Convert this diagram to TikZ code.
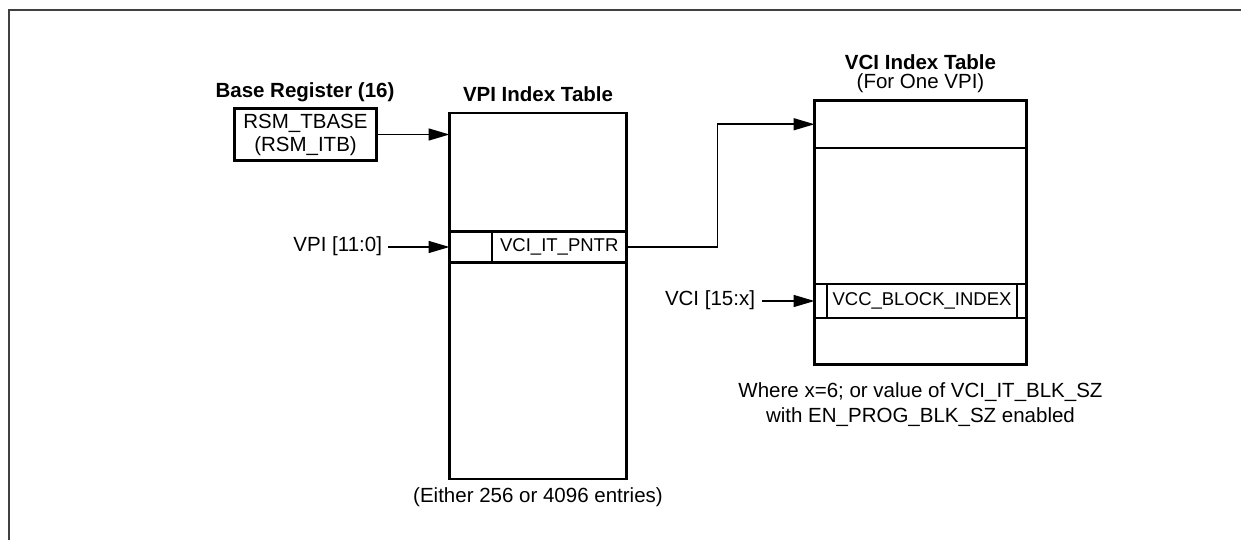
\documentclass[tikz,border=0pt]{standalone}
\usepackage{fontspec}
\setmainfont{Liberation Sans}
\usetikzlibrary{arrows.meta}
\begin{document}
\begin{tikzpicture}[x=1pt,y=-1pt,
  every node/.style={inner sep=0pt, outer sep=0pt},
  thick box/.style={draw, line width=2.7pt, rectangle, inner sep=0pt},
  lbl/.style={font=\fontsize{20.5}{25}\selectfont},
  cell/.style={font=\fontsize{18.5}{22}\selectfont},
  ttl/.style={font=\fontsize{20.5}{25}\selectfont\bfseries},
  conn/.style={line width=1.5pt, -{Triangle[length=21pt,width=12pt]}},
  wire/.style={line width=1.5pt},
  frame/.style={line width=2pt, draw=black!75}]
\useasboundingbox (0,0) rectangle (1241,540);
\draw[frame] (8.5,540) -- (8.5,10.5) -- (1241,10.5);

% Base register
\node[ttl] (brt) at (305,92) {Base Register (16)};
\node[thick box, minimum width=142pt, minimum height=52pt, align=center, lbl] (rsm) at (305.5,134.5)
  {RSM\_TBASE\\[-2pt](RSM\_ITB)};

% VPI table
\node[ttl] (vpit) at (538,94) {VPI Index Table};
\node[thick box, minimum width=177pt, minimum height=366pt] (vpi) at (538,296) {};
\node[thick box, minimum width=177pt, minimum height=31pt] (vpirow) at (538,247) {};
\node[thick box, minimum width=134.5pt, minimum height=31pt, cell] (pntr) at (559.25,247) {VCI\_IT\_PNTR};
\node[lbl] (vpicap) at (538,497) {(Either 256 or 4096 entries)};

\node[lbl, anchor=east] (vpilbl) at (382,246) {VPI [11:0]};
\draw[conn] ([xshift=6pt]vpilbl.east |- vpirow.west) -- (vpirow.west);
\draw[conn] (rsm.east) -- (rsm.east -| vpi.west);

% VCI table
\node[ttl] (vcit) at (920.5,62) {VCI Index Table};
\node[lbl] (vcis) at (920.5,83) {(For One VPI)};
\node[thick box, minimum width=212pt, minimum height=264pt] (vci) at (920.5,232.5) {};
\node[thick box, minimum width=212pt, minimum height=47.5pt] (vcitop) at (920.5,124.25) {};
\node[thick box, minimum width=212pt, minimum height=34pt] (vcirow) at (920.5,301) {};
\node[cell, minimum width=190pt, minimum height=32pt] (vcc) at (922,301) {VCC\_BLOCK\_INDEX};
\draw[line width=1.3pt] (vcc.north west) -- (vcc.south west);
\draw[line width=2.7pt] (vcc.north east) -- (vcc.south east);
\node[lbl, align=center] (vcicap) at (920.5,405) {Where x=6; or value of VCI\_IT\_BLK\_SZ\\[0pt]with EN\_PROG\_BLK\_SZ enabled};

\node[lbl, anchor=east] (vcilbl) at (755,300) {VCI [15:x]};
\draw[conn] ([xshift=7pt]vcilbl.east |- vcirow.west) -- (vcirow.west);

% connector from VPI entry to VCI table
\draw[conn] (pntr.east) -- ++(91,0) |- (vcitop.west);
\end{tikzpicture}
\end{document}
